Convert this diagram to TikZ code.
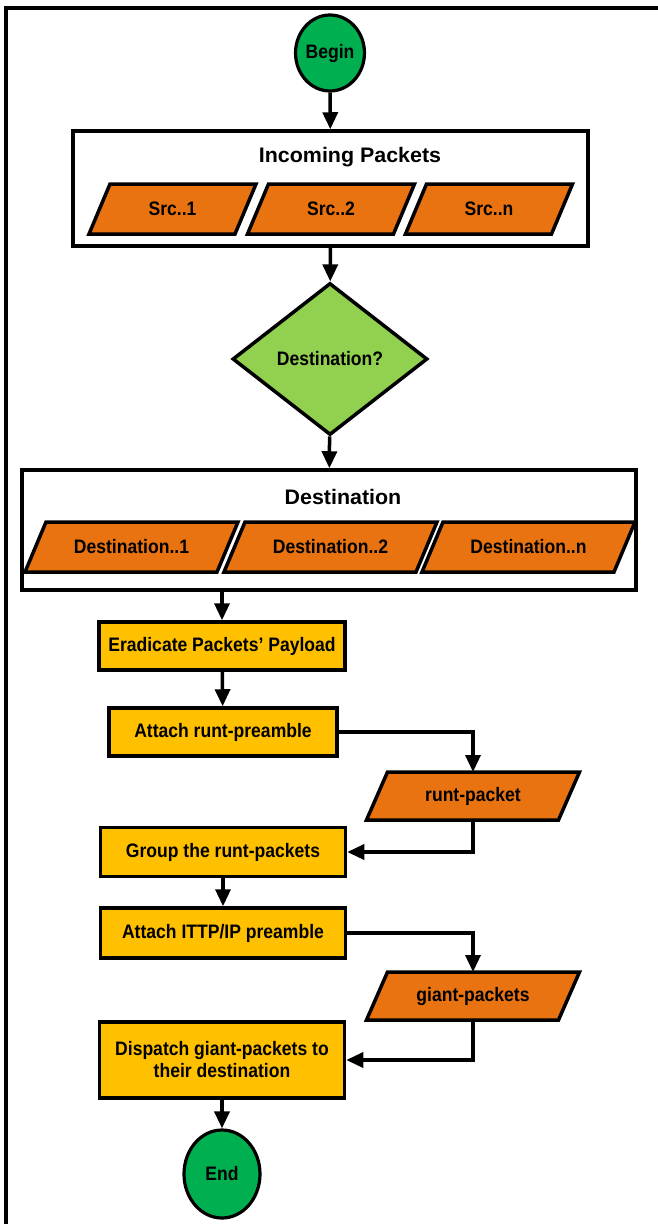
\documentclass[tikz,border=0pt]{standalone}
\usepackage{fontspec}
\setmainfont{Liberation Sans}[FakeStretch=0.9]
\newfontfamily\titlefont{Liberation Sans}[FakeStretch=1.02]
\usetikzlibrary{shapes.geometric,arrows.meta,backgrounds}
\definecolor{termgreen}{HTML}{00B050}
\definecolor{diagreen}{HTML}{92D050}
\definecolor{ioorange}{HTML}{E97311}
\definecolor{procyellow}{HTML}{FFC000}
\tikzset{
  lbl/.style={font=\bfseries\fontsize{19.5}{22}\selectfont},
  term/.style={ellipse, draw, fill=termgreen, line width=3.2pt, inner sep=0pt, lbl},
  group/.style={draw, line width=3.5pt, inner sep=0pt},
  grouptitle/.style={font=\titlefont\bfseries\fontsize{21}{24}\selectfont},
  parabody/.style={rectangle, inner sep=0pt, outer sep=0pt, lbl},
  parashape/.style={draw, fill=ioorange, line width=3.5pt, line join=miter},
  proc/.style={rectangle, draw, fill=procyellow, line width=3.5pt, inner sep=0pt, lbl, align=center},
  decision/.style={diamond, draw, fill=diagreen, line width=3.5pt, inner sep=0pt, lbl},
  arr/.style={line width=3.5pt, -{Triangle[length=17pt,width=15pt]}},
}
\newcommand\drawpara[1]{%
  \filldraw[parashape] ([xshift=-10.5pt]#1.south west) -- ([xshift=10.5pt]#1.north west)
    -- ([xshift=10.5pt]#1.north east) -- ([xshift=-10.5pt]#1.south east) -- cycle;}
\begin{document}
\begin{tikzpicture}[x=1pt,y=-1pt]
\useasboundingbox (0,0) rectangle (658,1224);
% outer frame (cut by page)
\draw[line width=3.5pt] (6,1230) -- (6,8) -- (665,8);

\node[term, minimum width=66, minimum height=76] (begin) at (330,53) {Begin};

\node[group, minimum width=515, minimum height=115] (inc) at (330.5,188.5) {};
\node[grouptitle] (inct) at (350,157) {Incoming Packets};
\node[parabody, minimum width=146, minimum height=50] (s1) at (172.5,209) {Src..1};
\node[parabody, minimum width=146, minimum height=50] (s2) at (331,209) {Src..2};
\node[parabody, minimum width=146, minimum height=50] (sn) at (489,209) {Src..n};

\node[decision, minimum width=195, minimum height=152] (dec) at (330,359) {Destination?};

\node[group, minimum width=614, minimum height=120] (dst) at (329,530) {};
\node[grouptitle] (dstt) at (343,497) {Destination};
\node[parabody, minimum width=192, minimum height=50] (d1) at (131.5,547) {Destination..1};
\node[parabody, minimum width=192, minimum height=50] (d2) at (330.5,547) {Destination..2};
\node[parabody, minimum width=192, minimum height=50] (dn) at (528.5,547) {Destination..n};

\node[proc, minimum width=246, minimum height=48] (erad) at (222,646) {Eradicate Packets’ Payload};
\node[proc, minimum width=228, minimum height=48] (runt) at (223,732) {Attach runt-preamble};
\node[parabody, minimum width=192, minimum height=48] (rp) at (473,796) {runt-packet};
\node[proc, minimum width=245, minimum height=49] (grp) at (223,852) {Group the runt-packets};
\node[proc, minimum width=245, minimum height=50] (ittp) at (223,933) {Attach ITTP/IP preamble};
\node[parabody, minimum width=192, minimum height=48] (gp) at (473,996) {giant-packets};
\node[proc, minimum width=245, minimum height=76] (disp) at (222,1060) {Dispatch giant-packets to\\their destination};
\node[term, minimum width=76, minimum height=88] (end) at (222,1174) {End};

\begin{scope}[on background layer]
  \drawpara{s1}\drawpara{s2}\drawpara{sn}
  \drawpara{d1}\drawpara{d2}\drawpara{dn}
  \drawpara{rp}\drawpara{gp}
\end{scope}

\draw[arr] (begin) -- (inc);
\draw[arr] (inc) -- (dec);
\draw[arr] (dec) -- (dst);
\draw[arr] (dst.south -| erad.north) -- (erad);
\draw[arr] (erad) -- (runt);
\draw[arr] (runt.east) -| (rp.north);
\draw[arr] (rp.south) |- (grp.east);
\draw[arr] (grp) -- (ittp);
\draw[arr] (ittp.east) -| (gp.north);
\draw[arr] (gp.south) |- (disp.east);
\draw[arr] (disp) -- (end);
\end{tikzpicture}
\end{document}
